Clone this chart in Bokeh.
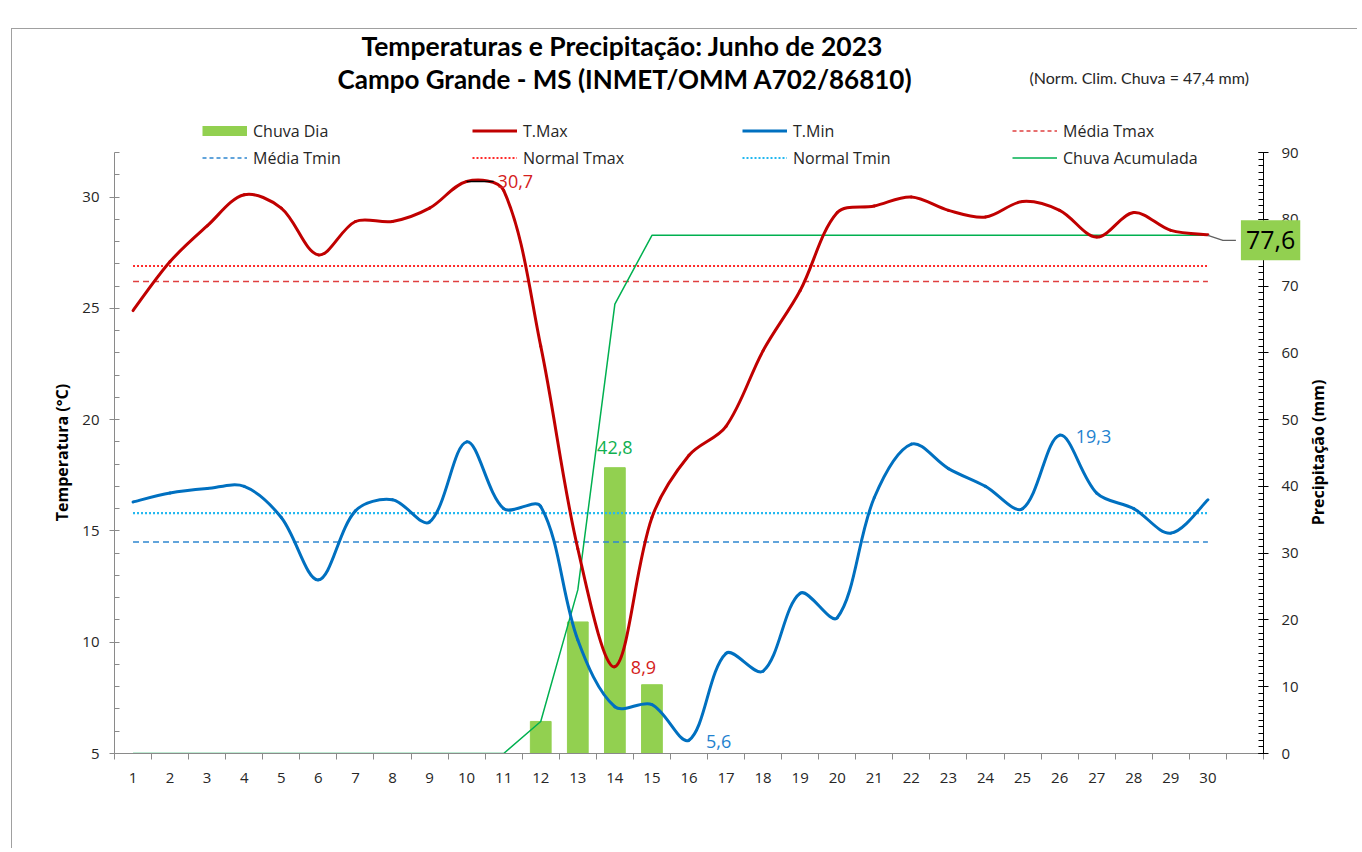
import math
from bokeh.plotting import figure
from bokeh.models import (Range1d, LinearAxis, FixedTicker, Label, Legend,
                          LegendItem)
from bokeh.embed import file_html
from bokeh.resources import INLINE
import numpy as np

# ---------------- data ----------------
days = list(range(1, 31))
tick_labels = [str(d) for d in days]
tmax = [24.9, 27.1, 28.7, 30.1, 29.5, 27.4, 28.9, 28.9, 29.5, 30.7,
        30.3, 23.3, 14.2, 8.9, 15.6, 18.4, 19.7, 23.1, 25.8, 29.3,
        29.6, 30.0, 29.4, 29.1, 29.8, 29.4, 28.2, 29.3, 28.5, 28.3]
tmin = [16.3, 16.7, 16.9, 17.0, 15.6, 12.8, 15.9, 16.4, 15.4, 19.0,
        16.0, 16.1, 10.1, 7.1, 7.2, 5.6, 9.5, 8.7, 12.2, 11.1,
        16.5, 18.9, 17.8, 17.0, 16.0, 19.3, 16.7, 16.0, 14.9, 16.4]
chuva = [0, 0, 0, 0, 0, 0, 0, 0, 0, 0,
         0, 4.8, 19.7, 42.8, 10.3, 0, 0, 0, 0, 0,
         0, 0, 0, 0, 0, 0, 0, 0, 0, 0]
media_tmax = 26.2
media_tmin = 14.5
normal_tmax = 26.9
normal_tmin = 15.8
norm_chuva = "47,4"

acum = list(np.round(np.cumsum(chuva), 1))

# ---------------- layout constants ----------------
OX, OY = 13, 29            # canvas origin in page image
W, H = 1346, 820
FL, FR, FT, FB = 115, 1264, 152, 753   # axis extents in page pixels
X_START, X_END = 0.5, 31.5
Y_START, Y_END = 5, 32
R_START, R_END = 0, 90
PX_DAY = (FR - FL) / (X_END - X_START)
PX_DEG = (FB - FT) / (Y_END - Y_START)
PX_MM = (FB - FT) / (R_END - R_START)
# frame goes up to the canvas top so that titles and legend are not clipped
Y_TOP = Y_END + (FT - OY) / PX_DEG
R_TOP = R_END + (FT - OY) / PX_MM


def xd(px):
    return X_START + (px - FL) / PX_DAY


def yd(py):
    return Y_START + (FB - py) / PX_DEG


FONT = "Open Sans"
TFONT = "Lato"

p = figure(width=W, height=H, output_backend="svg", toolbar_location=None,
           x_range=Range1d(X_START, X_END), y_range=Range1d(Y_START, Y_TOP),
           min_border_left=FL - OX, min_border_right=OX + W - FR,
           min_border_top=0, min_border_bottom=OY + H - FB,
           x_axis_location=None, y_axis_location=None)
p.styles = {"margin-left": "11px", "margin-top": "28px",
            "border-left": "1px solid #a0a0a0", "border-top": "1px solid #a0a0a0"}
p.outline_line_color = None
p.xgrid.visible = False
p.ygrid.visible = False
p.background_fill_color = "white"
p.border_fill_color = "white"
p.extra_y_ranges = {"rain": Range1d(R_START, R_TOP)}

# ---------------- axes ----------------
xaxis = LinearAxis(ticker=FixedTicker(ticks=days,
                                      minor_ticks=[d + 0.5 for d in range(0, 32)]),
                   major_label_overrides={d: l for d, l in zip(days, tick_labels)})
xaxis.major_tick_line_color = None
xaxis.major_tick_out = 0
xaxis.major_tick_in = 0
xaxis.minor_tick_out = 6
xaxis.minor_tick_in = 0
xaxis.minor_tick_line_color = "#8a8a8a"
xaxis.axis_line_color = "#8a8a8a"
xaxis.major_label_standoff = 13
xaxis.major_label_text_font = FONT
xaxis.major_label_text_font_size = "15px"
xaxis.major_label_text_color = "#262626"
p.add_layout(xaxis, "below")

yaxis = LinearAxis(ticker=FixedTicker(ticks=[5, 10, 15, 20, 25, 30],
                                      minor_ticks=list(range(5, 33))),
                   bounds=(Y_START, Y_END))
yaxis.axis_line_color = "#8a8a8a"
yaxis.major_tick_line_color = "#8a8a8a"
yaxis.minor_tick_line_color = "#8a8a8a"
yaxis.major_tick_out = 5
yaxis.major_tick_in = 0
yaxis.minor_tick_out = 0
yaxis.minor_tick_in = 5
yaxis.major_label_standoff = 10
yaxis.major_label_text_font = FONT
yaxis.major_label_text_font_size = "15px"
yaxis.major_label_text_color = "#262626"
p.add_layout(yaxis, "left")

raxis = LinearAxis(y_range_name="rain",
                   ticker=FixedTicker(ticks=list(range(0, 91, 10)),
                                      minor_ticks=list(range(0, 91))),
                   bounds=(R_START, R_END))
raxis.axis_line_color = "black"
raxis.major_tick_line_color = "black"
raxis.minor_tick_line_color = "black"
raxis.major_tick_out = 5
raxis.major_tick_in = 5
raxis.minor_tick_out = 0
raxis.minor_tick_in = 5
raxis.major_label_standoff = 13
raxis.major_label_text_font = FONT
raxis.major_label_text_font_size = "15px"
raxis.major_label_text_color = "#262626"
p.add_layout(raxis, "right")

# axis titles (placed in the side panels so they are not clipped by the frame)
p.add_layout(Label(x=xd(62), y=yd(452), text="Temperatura (°C)", angle=math.pi / 2,
                   text_align="center", text_baseline="middle", text_font=FONT,
                   text_font_style="bold", text_font_size="16px",
                   text_color="black"), "left")
p.add_layout(Label(x=xd(1318), y=yd(452), text="Precipitação (mm)", angle=math.pi / 2,
                   text_align="center", text_baseline="middle", text_font=FONT,
                   text_font_style="bold", text_font_size="16px",
                   text_color="black"), "right")

# ---------------- colours ----------------
C_BAR = "#92D050"
C_TMAX = "#C00000"
C_TMIN = "#0070C0"
C_MTMAX = "#E04040"
C_NTMAX = "#FF2A2A"
C_MTMIN = "#2E86D0"
C_NTMIN = "#22B8F0"
C_ACUM = "#00B050"

# ---------------- marks ----------------
p.vbar(x=days, top=chuva, width=0.56, color=C_BAR, y_range_name="rain")

p.line(days, [media_tmax] * len(days), line_color=C_MTMAX, line_width=1.5,
       line_dash="6 4")
p.line(days, [media_tmin] * len(days), line_color=C_MTMIN, line_width=1.5,
       line_dash="6 4")
p.line(days, [normal_tmax] * len(days), line_color=C_NTMAX, line_width=2.2,
       line_dash="2 2")
p.line(days, [normal_tmin] * len(days), line_color=C_NTMIN, line_width=2.2,
       line_dash="2 2")

p.line(days, acum, line_color=C_ACUM, line_width=1.5, y_range_name="rain")


def smooth_segments(xs, ys, kx, ky):
    """Bezier control points (Excel-like smoothing, computed in pixel space)."""
    X = np.asarray(xs, float) * kx
    Y = np.asarray(ys, float) * ky
    n = len(X)
    c_out = []
    c_in = []
    for i in range(n):
        a = max(i - 1, 0)
        b = min(i + 1, n - 1)
        tx, ty = X[b] - X[a], Y[b] - Y[a]
        lin = math.hypot(X[i] - X[a], Y[i] - Y[a])
        lout = math.hypot(X[b] - X[i], Y[b] - Y[i])
        s = lin + lout if lin + lout > 0 else 1
        fo = lout / s / 3 if (i > 0 and i < n - 1) else 1 / 6
        fi = lin / s / 3 if (i > 0 and i < n - 1) else 1 / 6
        c_out.append((X[i] + tx * fo, Y[i] + ty * fo))
        c_in.append((X[i] - tx * fi, Y[i] - ty * fi))
    d = dict(x0=[], y0=[], x1=[], y1=[], cx0=[], cy0=[], cx1=[], cy1=[])
    for i in range(n - 1):
        d["x0"].append(X[i] / kx); d["y0"].append(Y[i] / ky)
        d["x1"].append(X[i + 1] / kx); d["y1"].append(Y[i + 1] / ky)
        d["cx0"].append(c_out[i][0] / kx); d["cy0"].append(c_out[i][1] / ky)
        d["cx1"].append(c_in[i + 1][0] / kx); d["cy1"].append(c_in[i + 1][1] / ky)
    return d


p.bezier(**smooth_segments(days, tmin, PX_DAY, PX_DEG), line_color=C_TMIN,
         line_width=3, line_cap="round")
p.bezier(**smooth_segments(days, tmax, PX_DAY, PX_DEG), line_color=C_TMAX,
         line_width=3, line_cap="round")

# ---------------- data labels ----------------
i_max = int(np.argmax(tmax))
i_minmax = int(np.argmin(tmax))
i_min = int(np.argmin(tmin))
i_maxmin = int(np.argmax(tmin))
i_rain = int(np.argmax(chuva))

# leader of the max label
p.segment(x0=[days[i_max]], y0=[tmax[i_max]],
          x1=[days[i_max] + 27 / PX_DAY], y1=[tmax[i_max]],
          line_color="black", line_width=1.5)


def fmt(v):
    return f"{v:.1f}".replace(".", ",")


def dlabel(x, y, text, color, xo=0, yo=0, align="left", rng="default", size="18px"):
    p.add_layout(Label(x=x, y=y, text=text, x_offset=xo, y_offset=yo,
                       text_align=align, text_baseline="middle",
                       text_color=color, text_font=FONT,
                       text_font_size=size, y_range_name=rng))


dlabel(days[i_max], tmax[i_max], fmt(tmax[i_max]), "#D42020", xo=31)
dlabel(days[i_minmax], tmax[i_minmax], fmt(tmax[i_minmax]), "#D42020", xo=16, yo=-1)
dlabel(days[i_min], tmin[i_min], fmt(tmin[i_min]), "#1F82CF", xo=17, yo=-1)
dlabel(days[i_maxmin], tmin[i_maxmin], fmt(tmin[i_maxmin]), "#1F82CF", xo=16, yo=-1)
dlabel(days[i_rain], chuva[i_rain], fmt(chuva[i_rain]), "#10B050", align="center",
       yo=20, rng="rain")

# accumulated total label with leader (label in the lower panel: not clipped)
lx = days[-1]
ly = acum[-1]
p.line(x=[lx, lx + 15 / PX_DAY, lx + 28 / PX_DAY],
       y=[ly, ly - 5 / PX_MM, ly - 5 / PX_MM],
       line_color="#606060", line_width=1.3, y_range_name="rain")
lab_kw = dict(x=lx, y=ly, text=fmt(acum[-1]), x_offset=33, y_offset=-5,
              text_align="left", text_baseline="middle", text_color="black",
              text_font=FONT, text_font_size="25px",
              background_fill_color=C_BAR, y_range_name="rain")
try:
    lab_total = Label(padding={"x": 5, "y": 11}, **lab_kw)
except Exception:
    lab_total = Label(padding=8, **lab_kw)
p.add_layout(lab_total, "below")


# ---------------- titles ----------------
def tlabel(px, py, text, size, bold=True, align="left", font=TFONT, color="black"):
    p.add_layout(Label(x=xd(px), y=yd(py), text=text, text_align=align,
                       text_baseline="middle", text_font=font,
                       text_font_size=size, text_color=color,
                       text_font_style="bold" if bold else "normal"))


tlabel(362, 45, "Temperaturas  e  Precipitação:  Junho  de  2023", "26.5px")
tlabel(338, 78, "Campo  Grande  -  MS  (INMET/OMM  A702/86810)", "26px")
tlabel(1030, 77, f"(Norm. Clim. Chuva = {norm_chuva} mm)", "16px", bold=False,
       font=TFONT, color="#262626")

# ---------------- legend ----------------
# legend swatches: renderers whose points lie outside the visible ranges
hx = [X_START - 5, X_START - 4]
hy = [Y_START, Y_START]
dummy_bar = p.line(hx, hy, line_color=C_BAR, line_width=10)
r_tmax = p.line(hx, hy, line_color=C_TMAX, line_width=3)
r_tmin = p.line(hx, hy, line_color=C_TMIN, line_width=3)
r_mtmax = p.line(hx, hy, line_color=C_MTMAX, line_width=1.5, line_dash="4 3")
r_mtmin = p.line(hx, hy, line_color=C_MTMIN, line_width=1.5, line_dash="4 3")
r_ntmax = p.line(hx, hy, line_color=C_NTMAX, line_width=2.2, line_dash="2 2")
r_ntmin = p.line(hx, hy, line_color=C_NTMIN, line_width=2.2, line_dash="2 2")
r_acum = p.line(hx, hy, line_color=C_ACUM, line_width=1.5)

items = [LegendItem(label="Chuva Dia", renderers=[dummy_bar]),
         LegendItem(label="T.Max", renderers=[r_tmax]),
         LegendItem(label="T.Min", renderers=[r_tmin]),
         LegendItem(label="Média Tmax", renderers=[r_mtmax]),
         LegendItem(label="Média Tmin", renderers=[r_mtmin]),
         LegendItem(label="Normal Tmax", renderers=[r_ntmax]),
         LegendItem(label="Normal Tmin", renderers=[r_ntmin]),
         LegendItem(label="Chuva Acumulada", renderers=[r_acum])]
legend = Legend(items=items, orientation="horizontal", ncols=4,
                location=(203 - FL, FB - 171),
                glyph_width=45, glyph_height=27, label_height=27,
                label_width=219, label_standoff=6, spacing=0, padding=0,
                margin=0, border_line_color=None, background_fill_alpha=0,
                label_text_font=FONT, label_text_font_size="16px",
                label_text_color="#262626")
p.add_layout(legend, "center")

open("out.html", "w").write(file_html(p, INLINE))
